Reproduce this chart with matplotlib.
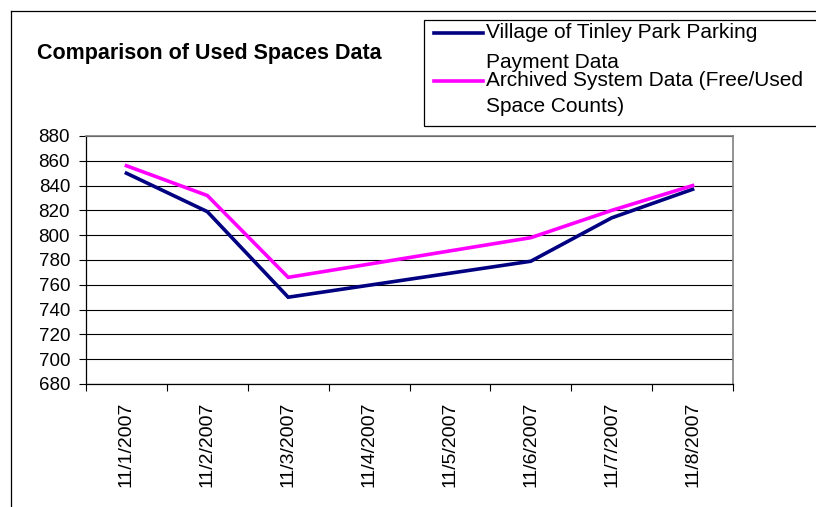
import numpy as np
import matplotlib
matplotlib.use("Agg")
import matplotlib.pyplot as plt
from matplotlib.lines import Line2D
from matplotlib.patches import Rectangle

# ---- data ----
dates = ["11/1/2007", "11/2/2007", "11/3/2007", "11/4/2007",
         "11/5/2007", "11/6/2007", "11/7/2007", "11/8/2007"]
village = [850, 819, 750, None, None, 779, 814, 837]
archived = [856, 832, 766, None, None, 798, 820, 840]
series_names = ["Village of Tinley Park Parking\nPayment Data",
                "Archived System Data (Free/Used\nSpace Counts)"]
title = "Comparison of Used Spaces Data"
yticks = list(range(680, 881, 20))

colors = ["#000080", "#FF00FF"]

plt.rcParams['font.family'] = ['Liberation Sans', 'DejaVu Sans']

W, H = 816, 507
fig = plt.figure(figsize=(W / 100, H / 100), dpi=100)

def fx(px):
    return px / W

def fy(py):
    return 1 - py / H

# outer chart frame (left and top edges visible)
fig.add_artist(Line2D([fx(10.5), fx(10.5)], [fy(11), fy(H + 5)], color="black", lw=0.9,
                      transform=fig.transFigure))
fig.add_artist(Line2D([fx(10.5), fx(W + 5)], [fy(11), fy(11)], color="black", lw=0.9,
                      transform=fig.transFigure))

ax = fig.add_axes([fx(86), fy(384), fx(733) - fx(86), fy(136) - fy(384)])

x = np.arange(len(dates))
for vals, c in zip([village, archived], colors):
    arr = np.array([np.nan if v is None else v for v in vals], dtype=float)
    m = ~np.isnan(arr)
    ax.plot(x[m], arr[m], color=c, lw=2.6, solid_joinstyle="miter", zorder=3)

ax.set_xlim(-0.5, len(dates) - 0.5)
ax.set_ylim(680, 880)
ax.set_yticks(yticks)
ax.set_yticklabels([str(v) for v in yticks])
ax.yaxis.grid(True, color="black", lw=0.8)
ax.set_axisbelow(True)

ax.set_xticks(np.arange(-0.5, len(dates), 1.0))
ax.set_xticklabels([])
ax.set_xticks(x, minor=True)
ax.set_xticklabels(dates, minor=True, rotation=90, fontsize=14)
ax.tick_params(axis="x", which="major", length=5, width=0.8, direction="out")
ax.tick_params(axis="x", which="minor", length=0, pad=12.5)
ax.tick_params(axis="y", length=5, width=0.8, direction="out", labelsize=13.5, pad=6.5)

for s in ["top", "right"]:
    ax.spines[s].set_color("#808080")
    ax.spines[s].set_linewidth(1.2)
for s in ["left", "bottom"]:
    ax.spines[s].set_color("black")
    ax.spines[s].set_linewidth(0.9)

# title
fig.text(fx(37), fy(53), title, fontsize=15.5, fontweight="bold", ha="left", va="center")

# legend box (manual, mimics Excel layout)
fig.add_artist(Rectangle((fx(423.5), fy(126)), fx(W + 10) - fx(423.5), fy(20) - fy(126),
                         facecolor="white", edgecolor="black", lw=0.9,
                         transform=fig.transFigure, zorder=5))
line_rows = [(33, 62), (81, 107)]
for name, c, (y1, y2) in zip(series_names, colors, line_rows):
    fig.add_artist(Line2D([fx(434), fx(483)], [fy(y1), fy(y1)], color=c, lw=2.6,
                          transform=fig.transFigure, zorder=6))
    l1, l2 = name.split("\n")
    fig.text(fx(486), fy(y1), l1, fontsize=15, ha="left", va="center", zorder=6)
    fig.text(fx(486), fy(y2), l2, fontsize=15, ha="left", va="center", zorder=6)

fig.savefig("out.png", dpi=100)
